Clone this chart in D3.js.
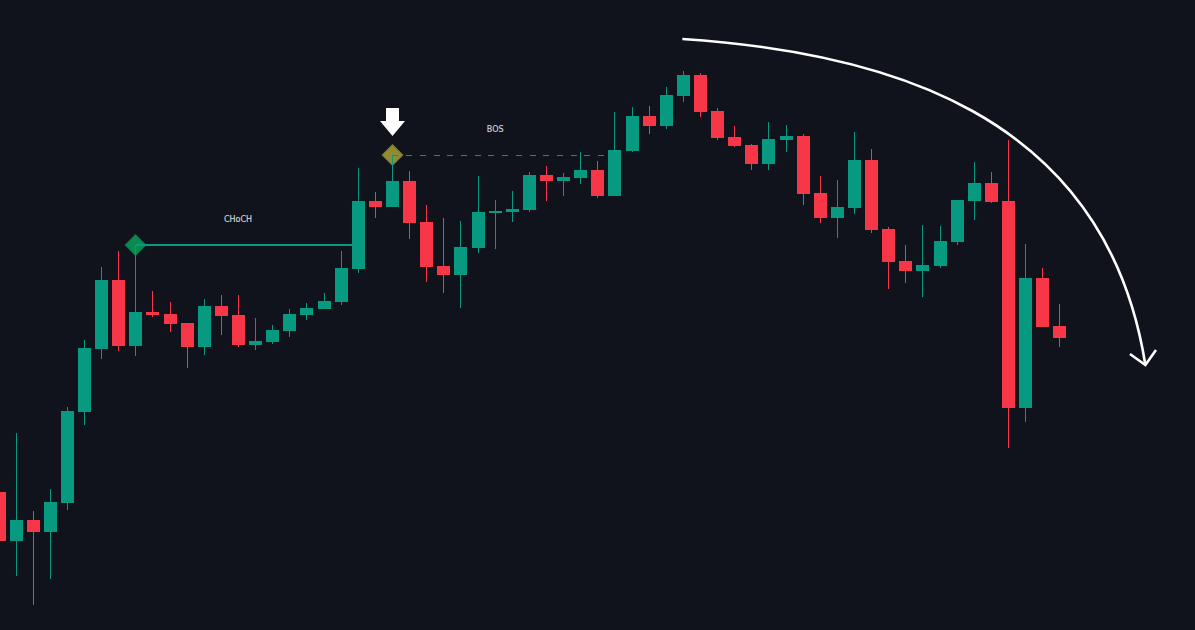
<!DOCTYPE html>
<html>

<head>
  <meta charset="utf-8">
  <title>CHoCH / BOS candlesticks</title>
  <script src="https://d3js.org/d3.v7.min.js"></script>
  <style>
    html, body { margin: 0; padding: 0; background: #10131b; overflow: hidden; }
    svg { display: block; }
    text { font-family: "DejaVu Sans", sans-serif; font-size: 8px; fill: #d6d6d6; stroke: #d6d6d6; stroke-width: 0.15px; }
  </style>
</head>

<body>
  <svg width="1195" height="630"></svg>
  <script>
    // candles, left to right
    var opens = [138, 89, 110, 98, 127, 218, 281, 350, 284, 318, 316, 307, 283, 324, 315, 285, 288, 299, 315, 321, 328,
      361, 429, 423, 449, 408, 364, 355, 382, 417, 418, 420, 455, 449, 452, 460, 434, 479, 514, 504, 534, 555, 519, 493,
      485, 466, 490, 494, 437, 412, 422, 470, 401, 369, 359, 364, 388, 429, 447, 429, 222, 352, 304];
    var highs = [138, 197, 119, 141, 223, 290, 363, 379, 385, 339, 328, 307, 331, 335, 335, 312, 305, 321, 327, 337, 379,
      462, 438, 475, 459, 425, 412, 409, 454, 430, 439, 458, 464, 457, 478, 469, 518, 523, 524, 543, 559, 557, 522, 504,
      486, 508, 505, 496, 454, 450, 498, 481, 403, 385, 405, 404, 430, 468, 458, 490, 386, 362, 326];
    var lows = [89, 54, 25, 51, 120, 205, 271, 279, 274, 313, 298, 262, 275, 295, 283, 280, 286, 293, 310, 321, 325,
      357, 412, 423, 391, 348, 337, 322, 377, 381, 408, 418, 429, 434, 446, 432, 434, 478, 496, 501, 528, 513, 490, 483,
      460, 460, 478, 425, 407, 392, 416, 397, 341, 347, 333, 362, 385, 410, 427, 182, 208, 303, 283];
    var closes = [89, 110, 98, 128, 219, 282, 350, 284, 318, 315, 306, 283, 324, 314, 285, 289, 300, 316, 322, 329, 362,
      429, 423, 449, 407, 363, 355, 383, 418, 419, 421, 455, 449, 453, 460, 434, 480, 514, 504, 535, 555, 518, 492, 484,
      466, 491, 494, 436, 412, 423, 470, 400, 368, 359, 365, 389, 430, 447, 428, 222, 352, 303, 292];

    // annotations, [bar, price]
    var chochLine = [[8, 385], [21, 385]];
    var bosLine = [[23, 475], [35.9, 475]];
    var arrowCurve = [[39.94, 591], [51.49, 578], [64.64, 520], [67, 265]];
    var arrowHead = [[66.1, 276], [67, 265], [67.62, 280]];
    var downArrow = { bar: 23, tip: 494 };

    var upColor = "#089981";
    var downColor = "#f73648";

    var svg = d3.select("svg");
    var candles = opens.map(function (o, i) {
      return { i: i, open: o, high: highs[i], low: lows[i], close: closes[i] };
    });

    var x = d3.scaleLinear().domain([0, 62]).range([-1, 1059.82]);
    var y = d3.scaleLinear().domain([0, 630]).range([630, 0]);

    // snap to the pixel grid the way a trading chart does
    function cx(i) { return Math.floor(x(i)) + 0.5; }

    var line = d3.line()
      .x(function (d) { return cx(d[0]); })
      .y(function (d) { return y(d[1]); });

    var rawLine = d3.line()
      .x(function (d) { return x(d[0]); })
      .y(function (d) { return y(d[1]); });

    var diamond = d3.symbol().type(d3.symbolSquare).size(210);

    //Markeri ispod svijeća
    svg.append("path")
      .attr("d", diamond())
      .attr("transform", "translate(" + cx(8) + "," + y(385) + ") rotate(45)")
      .attr("fill", "#0b8a50")
      .attr("stroke", "#0d7a4c")
      .attr("stroke-width", 1);

    svg.append("path")
      .attr("d", diamond())
      .attr("transform", "translate(" + cx(23) + "," + y(475) + ") rotate(45)")
      .attr("fill", "#918c33")
      .attr("stroke", "#7f7b30")
      .attr("stroke-width", 1);

    //Svijeće
    svg.selectAll(".wick")
      .data(candles)
      .enter()
      .append("line")
      .attr("class", "wick")
      .attr("x1", function (d) { return cx(d.i); })
      .attr("x2", function (d) { return cx(d.i); })
      .attr("y1", function (d) { return y(d.high); })
      .attr("y2", function (d) { return y(d.low); })
      .attr("stroke", function (d) { return d.close >= d.open ? upColor : downColor; })
      .attr("stroke-width", 1)
      .attr("shape-rendering", "crispEdges");

    svg.selectAll(".body")
      .data(candles)
      .enter()
      .append("rect")
      .attr("class", "body")
      .attr("x", function (d) { return cx(d.i) - 6.5; })
      .attr("width", 13)
      .attr("y", function (d) { return y(Math.max(d.open, d.close)); })
      .attr("height", function (d) { return Math.abs(d.open - d.close); })
      .attr("fill", function (d) { return d.close >= d.open ? upColor : downColor; })
      .attr("shape-rendering", "crispEdges");

    //CHoCH i BOS linije
    svg.append("path")
      .attr("d", line(chochLine))
      .attr("fill", "none")
      .attr("stroke", upColor)
      .attr("stroke-width", 2)
      .attr("shape-rendering", "crispEdges");

    svg.append("path")
      .attr("d", line(bosLine))
      .attr("fill", "none")
      .attr("stroke", upColor)
      .attr("stroke-width", 1)
      .attr("stroke-dasharray", "6 7.7")
      .attr("shape-rendering", "crispEdges");

    svg.append("text")
      .attr("x", x(13.97))
      .attr("y", y(408))
      .attr("text-anchor", "middle")
      .text("CHoCH");

    svg.append("text")
      .attr("x", x(29))
      .attr("y", y(498))
      .attr("text-anchor", "middle")
      .text("BOS");

    //Bijela strelica iznad BOS markera
    var ax = cx(downArrow.bar);
    var ay = y(downArrow.tip);
    svg.append("path")
      .attr("d", "M" + (ax - 6.5) + "," + (ay - 28) + "H" + (ax + 6.5) + "V" + (ay - 15)
        + "H" + (ax + 12.5) + "L" + ax + "," + ay + "L" + (ax - 12.5) + "," + (ay - 15)
        + "H" + (ax - 6.5) + "Z")
      .attr("fill", "#ffffff");

    //Velika zakrivljena strelica
    var curve = d3.path();
    curve.moveTo(x(arrowCurve[0][0]), y(arrowCurve[0][1]));
    curve.bezierCurveTo(
      x(arrowCurve[1][0]), y(arrowCurve[1][1]),
      x(arrowCurve[2][0]), y(arrowCurve[2][1]),
      x(arrowCurve[3][0]), y(arrowCurve[3][1]));
    svg.append("path")
      .attr("d", curve.toString())
      .attr("fill", "none")
      .attr("stroke", "#ffffff")
      .attr("stroke-width", 2.6);

    svg.append("path")
      .attr("d", rawLine(arrowHead))
      .attr("fill", "none")
      .attr("stroke", "#ffffff")
      .attr("stroke-width", 2.6)
      .attr("stroke-linejoin", "miter");
  </script>
</body>

</html>
